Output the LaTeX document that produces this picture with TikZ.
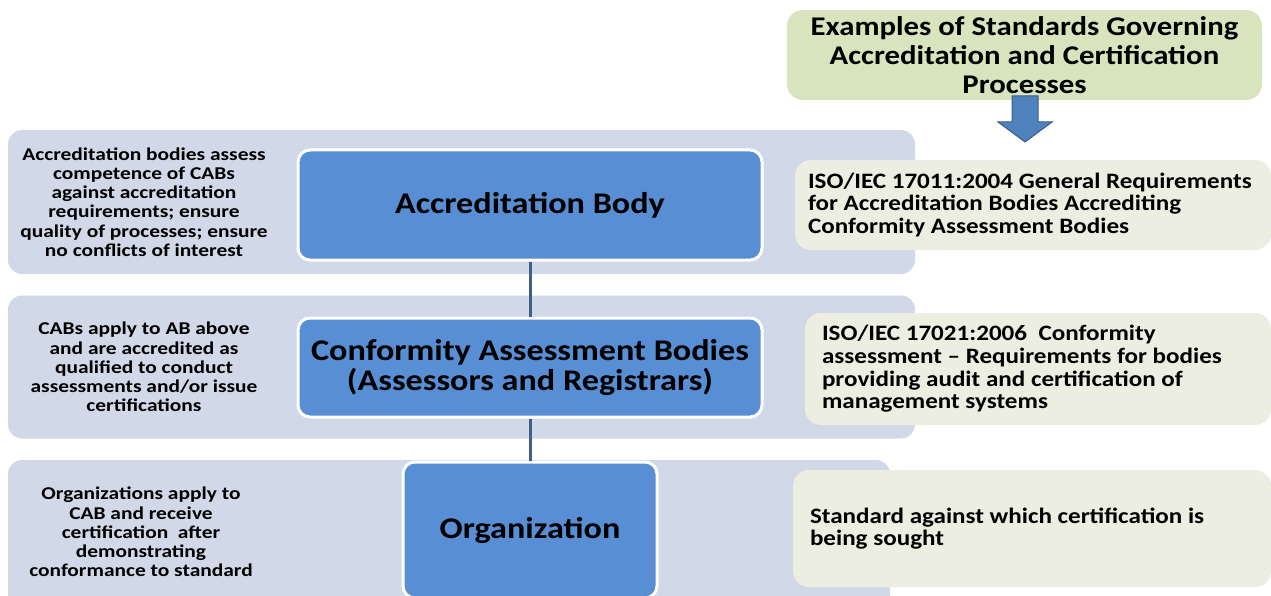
\documentclass[tikz,border=0pt]{standalone}
\usepackage{fontspec}
\setmainfont[FakeStretch=1.14]{Carlito}
\newfontfamily\notefont[FakeStretch=1.19]{Carlito}
\usepackage{tikz}
\definecolor{bandgray}{RGB}{209,216,231}
\definecolor{boxblue}{RGB}{87,142,212}
\definecolor{stdgreen}{RGB}{235,238,224}
\definecolor{titlegreen}{RGB}{216,228,190}
\definecolor{linkblue}{RGB}{62,94,140}
\definecolor{arrowblue}{RGB}{79,129,189}
\definecolor{arrowdark}{RGB}{56,93,138}
\tikzset{
  band/.style={fill=bandgray, rounded corners=14, inner sep=0pt},
  body/.style={fill=boxblue, draw=white, line width=3pt, rounded corners=12,
    align=center, font=\fontsize{30}{30}\selectfont\bfseries},
  note/.style={align=center, font=\notefont\fontsize{18}{19.2}\selectfont\bfseries},
  std/.style={fill=stdgreen, rounded corners=16, inner ysep=0pt, align=flush left,
    font=\fontsize{22}{22.6}\selectfont\bfseries},
  link/.style={draw=linkblue, line width=3pt}
}

\begin{document}
\begin{tikzpicture}[x=1pt, y=-1pt]
 \useasboundingbox (0,0) rectangle (1271,596);

 % grey bands behind each level
 \node[band, minimum width=907, minimum height=144] (band1) at (461.5, 202) {};
 \node[band, minimum width=907, minimum height=143] (band2) at (461.5, 367) {};
 \node[band, minimum width=882, minimum height=150] (band3) at (449, 535) {};

 % what each level does
 \node[note] (n1) at (144, 202) {Accreditation bodies assess\\competence of CABs\\against accreditation\\requirements; ensure\\quality of processes; ensure\\no conflicts of interest};
 \node[note] (n2) at (144, 367) {CABs apply to AB above\\and are accredited as\\qualified to conduct\\assessments and/or issue\\certifications};
 \node[note] (n3) at (141, 532) {Organizations apply to\\CAB and receive\\certification\ \ after\\demonstrating\\conformance to standard};

 % the chain of bodies
 \node[body, minimum width=464, minimum height=110] (ab)  at (530, 205) {Accreditation Body};
 \node[body, minimum width=464, minimum height=99]  (cab) at (530, 367.5) {Conformity Assessment Bodies\\(Assessors and Registrars)};
 \node[body, minimum width=254, minimum height=136] (org) at (530, 530) {Organization};

 \draw[link] (ab) -- (cab);
 \draw[link] (cab) -- (org);

 % standards column
 \node[std, fill=titlegreen, align=center, minimum width=475, minimum height=90,
   font=\fontsize{27}{29}\selectfont\bfseries] (title) at (1024.5, 55)
   {Examples of Standards Governing\\Accreditation and Certification\\Processes};

 \node[std, inner xsep=13pt, text width=450, minimum height=90] (iso1) at (1033, 205)
   {ISO/IEC 17011:2004 General Requirements\\for Accreditation Bodies Accrediting\\Conformity Assessment Bodies};
 \node[std, inner xsep=17pt, text width=432, minimum height=112] (iso2) at (1038, 369)
   {ISO/IEC 17021:2006\ \ Conformity\\assessment -- Requirements for bodies\\providing audit and certification\ of\\management systems};
 \node[std, inner xsep=17pt, text width=444, minimum height=117] (iso3) at (1032, 528.5)
   {Standard against which certification is\\being sought};

 % block arrow under the heading
 \coordinate (tip) at (1025, 142);
 \filldraw[fill=arrowblue, draw=arrowdark, line width=1pt]
   (tip) -- ++(27,-20) -- ++(-14,0) -- ++(0,-26) -- ++(-26,0)
   -- ++(0,26) -- ++(-14,0) -- cycle;
\end{tikzpicture}
\end{document}
